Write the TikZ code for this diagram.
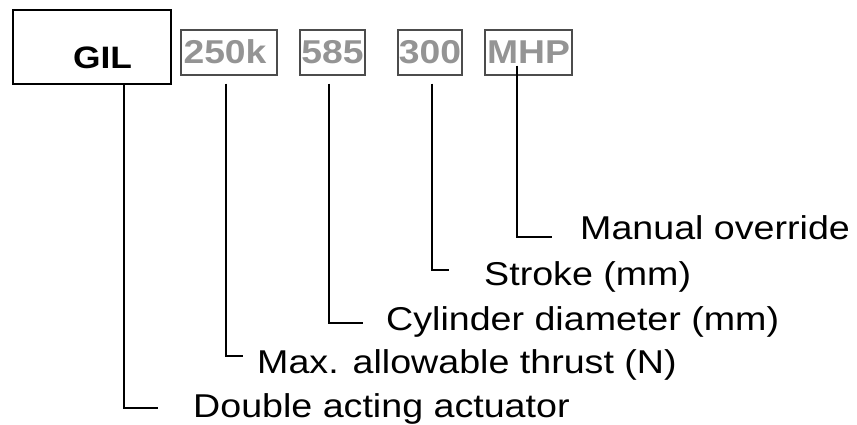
\documentclass[tikz,border=0pt]{standalone}
\usepackage{fontspec}
\setmainfont{Liberation Sans}
\begin{document}
\begin{tikzpicture}[x=1pt,y=-1pt,
  bigbox/.style={draw=black,line width=2pt,minimum width=158pt,minimum height=74pt,inner sep=0pt},
  codebox/.style={draw=black!70,line width=1.2pt,minimum height=45pt,inner sep=0pt},
  codetext/.style={text=black!42,font=\bfseries\fontsize{33}{36}\selectfont,inner sep=0pt,anchor=base},
  lbl/.style={font=\fontsize{33}{36}\selectfont,inner sep=0pt,anchor=base west},
  lead/.style={draw=black,line width=1.2pt}]
\useasboundingbox (0,0) rectangle (857,425);
% boxes
\node[bigbox] (gil) at (92,47) {};
\node[font=\bfseries\fontsize{31}{34}\selectfont,inner sep=0pt,anchor=base] (giltext) at (102.5,69) {\scalebox{1.14}[1]{GIL}};
\node[codebox,minimum width=96pt] (b1) at (229,52.5) {};
\node[codebox,minimum width=65pt] (b2) at (332.5,52.5) {};
\node[codebox,minimum width=64pt] (b3) at (430,52.5) {};
\node[codebox,minimum width=87pt] (b4) at (528.5,52.5) {};
\node[codetext] (t1) at (225,64) {\scalebox{1.13}[1]{250k}};
\node[codetext] (t2) at (332.5,64) {\scalebox{1.13}[1]{585}};
\node[codetext] (t3) at (430,64) {\scalebox{1.13}[1]{300}};
\node[codetext] (t4) at (528.5,64) {\scalebox{1.13}[1]{MHP}};
% labels
\node[lbl] (l0) at (193,417) {\scalebox{1.14}[1]{Double acting actuator}};
\node[lbl] (l1) at (257,373) {\scalebox{1.14}[1]{Max. allowable thrust (N)}};
\node[lbl] (l2) at (386,330) {\scalebox{1.14}[1]{Cylinder diameter (mm)}};
\node[lbl] (l3) at (484,285) {\scalebox{1.14}[1]{Stroke (mm)}};
\node[lbl] (l4) at (580,239) {\scalebox{1.14}[1]{Manual override}};
% leader end points
\coordinate (e0) at (158,408);
\coordinate (e1) at (243,356);
\coordinate (e2) at (363,323);
\coordinate (e3) at (449,270);
\coordinate (e4) at (552,237);
% leaders
\draw[lead] (gil.south -| 124,0) |- (e0);
\draw[lead] ([yshift=-8pt]b1.south -| 226,0) |- (e1);
\draw[lead] ([yshift=-8pt]b2.south -| 329,0) |- (e2);
\draw[lead] ([yshift=-8pt]b3.south -| 432,0) |- (e3);
\draw[lead] ([yshift=10pt]b4.south -| 517,0) |- (e4);
\end{tikzpicture}
\end{document}
